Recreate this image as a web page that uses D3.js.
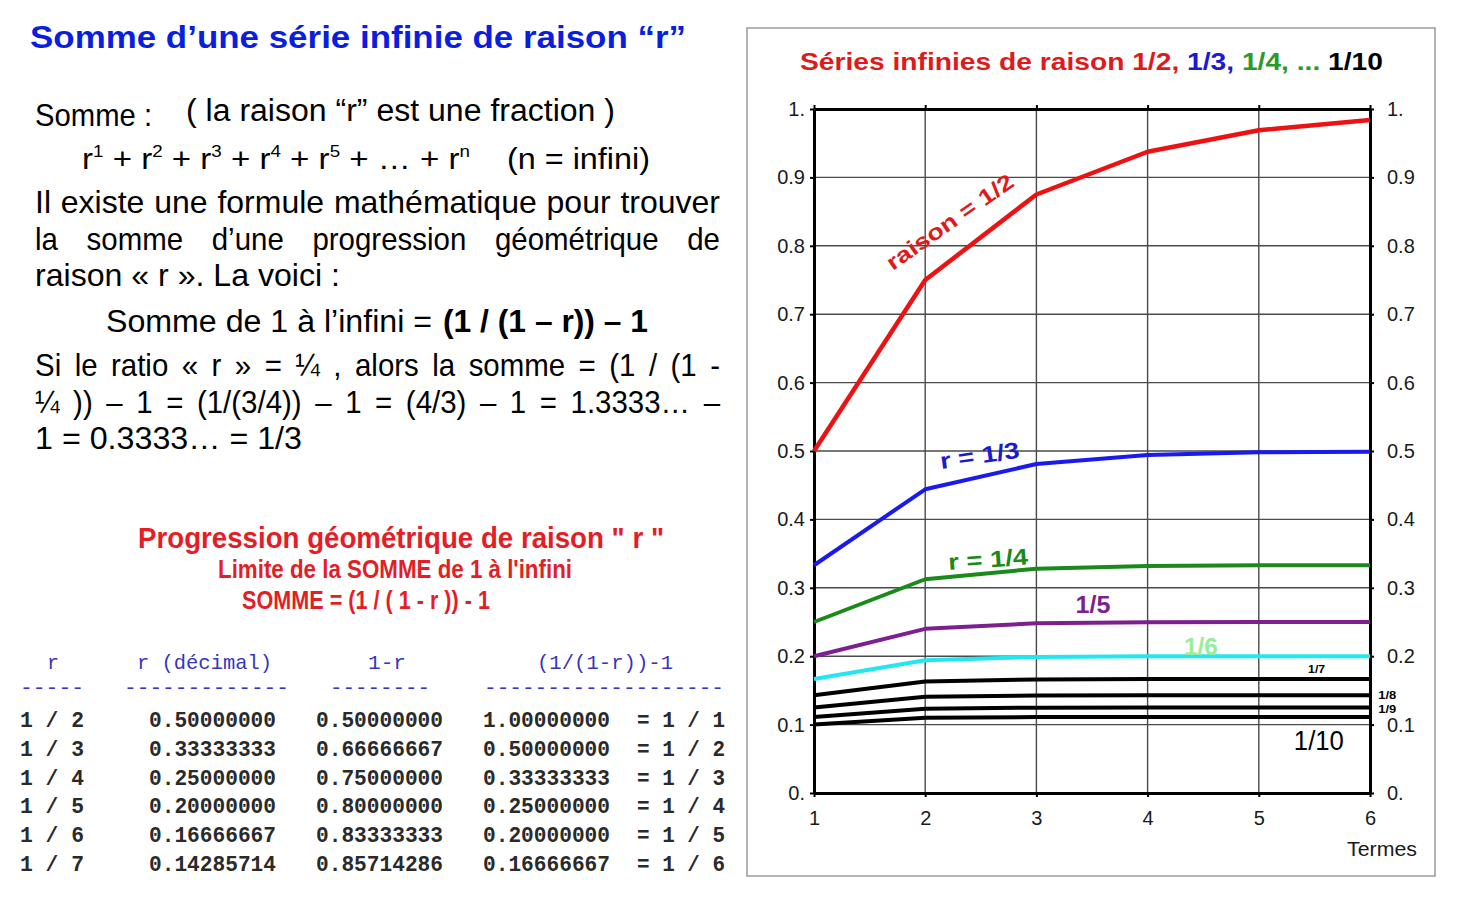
<!doctype html>
<html>
<head>
<meta charset="utf-8">
<script src="https://cdn.jsdelivr.net/npm/d3@7"></script>
<style>
  html, body { margin: 0; padding: 0; background: #fff; }
  svg { display: block; font-family: "Liberation Sans", Arial, sans-serif; }
</style>
</head>
<body>
<svg id="chart" width="1462" height="902"></svg>
<script>
  // termes de la série (axe x)
  var termes = [1, 2, 3, 4, 5, 6];

  // sommes partielles, une par raison
  var serie2 = [0.5, 0.75, 0.875, 0.9375, 0.969, 0.984];
  var serie3 = [0.333, 0.444, 0.481, 0.494, 0.498, 0.499];
  var serie4 = [0.25, 0.3125, 0.328, 0.332, 0.333, 0.333];
  var serie5 = [0.2, 0.24, 0.248, 0.2496, 0.2499, 0.25];
  var serie6 = [0.1667, 0.194, 0.199, 0.1998, 0.2, 0.2];
  var serie7 = [0.143, 0.163, 0.166, 0.1666, 0.1667, 0.1667];
  var serie8 = [0.125, 0.1406, 0.1426, 0.1428, 0.1428, 0.1429];
  var serie9 = [0.111, 0.123, 0.1248, 0.125, 0.125, 0.125];
  var serie10 = [0.1, 0.11, 0.111, 0.111, 0.111, 0.111];

  var raisons = ['1/2', '1/3', '1/4', '1/5', '1/6', '1/7', '1/8', '1/9', '1/10'];
  var series = [serie2, serie3, serie4, serie5, serie6, serie7, serie8, serie9, serie10];

  var yTicks = [0, 0.1, 0.2, 0.3, 0.4, 0.5, 0.6, 0.7, 0.8, 0.9, 1];

  // tableau du bas
  var tabR = ['1 / 2', '1 / 3', '1 / 4', '1 / 5', '1 / 6', '1 / 7'];
  var tabDecimal = ['0.50000000', '0.33333333', '0.25000000', '0.20000000', '0.16666667', '0.14285714'];
  var tabUnMoinsR = ['0.50000000', '0.66666667', '0.75000000', '0.80000000', '0.83333333', '0.85714286'];
  var tabSomme = ['1.00000000', '0.50000000', '0.33333333', '0.25000000', '0.20000000', '0.16666667'];
  var tabFraction = ['= 1 / 1', '= 1 / 2', '= 1 / 3', '= 1 / 4', '= 1 / 5', '= 1 / 6'];
  var tabHeaders = ['r', 'r (décimal)', '1-r', '(1/(1-r))-1'];

  var colors = ['#ee1111', '#1a1aee', '#1a8a1a', '#7d1f8e', '#22e6f0', '#000', '#000', '#000', '#000'];

  var svg = d3.select('#chart');

  // ---------- texte de gauche ----------
  var left = svg.append('g').attr('class', 'left');

  left.append('text')
    .attr('x', 30).attr('y', 48)
    .attr('font-size', 31).attr('font-weight', 'bold').attr('fill', '#0a1ee0')
    .attr('textLength', 656).attr('lengthAdjust', 'spacingAndGlyphs')
    .text('Somme d’une série infinie de raison “r”');

  function plain(x, y, size, str, width, weight) {
    var t = left.append('text')
      .attr('x', x).attr('y', y)
      .attr('font-size', size).attr('fill', '#000')
      .attr('font-weight', weight || 'normal')
      .text(str);
    if (width) t.attr('textLength', width).attr('lengthAdjust', 'spacingAndGlyphs');
    return t;
  }

  // ligne justifiée mot par mot (police un peu condensée)
  function justify(x0, x1, y, size, str, condense) {
    var words = str.split(' ');
    var nodes = words.map(function (w) {
      return left.append('text').attr('y', y).attr('font-size', size).attr('fill', '#000').text(w);
    });
    var widths = nodes.map(function (n) { return n.node().getComputedTextLength(); });
    var total = d3.sum(widths);
    var minGap = size * 0.28;
    var scale = condense || 1;
    var gap = (x1 - x0 - total * scale) / (words.length - 1);
    if (gap < minGap) {
      scale = (x1 - x0 - minGap * (words.length - 1)) / total;
      gap = minGap;
    }
    var x = x0;
    nodes.forEach(function (n, i) {
      var w = widths[i] * scale;
      n.attr('x', x).attr('textLength', w).attr('lengthAdjust', 'spacingAndGlyphs');
      x += w + gap;
    });
  }

  plain(35, 126, 32, 'Somme :', 117);
  plain(186, 121, 31, '( la raison “r” est une fraction )', 429);

  var formula = left.append('text')
    .attr('x', 82).attr('y', 169).attr('font-size', 30).attr('fill', '#000')
    .attr('textLength', 388).attr('lengthAdjust', 'spacingAndGlyphs');
  ['1', '2', '3', '4', '5'].forEach(function (p) {
    formula.append('tspan').text('r');
    formula.append('tspan').attr('font-size', 17).attr('dy', -12).text(p);
    formula.append('tspan').attr('dy', 12).text(' + ');
  });
  formula.append('tspan').text('… + r');
  formula.append('tspan').attr('font-size', 17).attr('dy', -12).text('n');
  plain(507, 169, 30, '(n = infini)', 143);

  justify(35, 720, 213, 32, 'Il existe une formule mathématique pour trouver');
  justify(35, 720, 250, 32, 'la somme d’une progression géométrique de', 0.92);
  plain(35, 286, 32, 'raison « r ». La voici :', 305);
  plain(106, 332, 31, 'Somme de 1 à l’infini =', 326);
  plain(443, 332, 31, '(1 / (1 – r)) – 1', 205, 'bold');
  justify(35, 720, 376, 32, 'Si le ratio « r » = ¼ , alors la somme = (1 / (1 -', 0.92);
  justify(35, 720, 413, 32, '¼ )) – 1 = (1/(3/4)) – 1 = (4/3) – 1 = 1.3333… –', 0.92);
  plain(35, 449, 32, '1 = 0.3333… = 1/3', 267);

  // bloc rouge
  var red = '#e41e26';
  left.append('text').attr('x', 138).attr('y', 548).attr('font-size', 30).attr('font-weight', 'bold')
    .attr('fill', red).attr('textLength', 526).attr('lengthAdjust', 'spacingAndGlyphs')
    .text('Progression géométrique de raison " r "');
  left.append('text').attr('x', 218).attr('y', 578).attr('font-size', 25).attr('font-weight', 'bold')
    .attr('fill', red).attr('textLength', 354).attr('lengthAdjust', 'spacingAndGlyphs')
    .text('Limite de la SOMME de 1 à l\'infini');
  left.append('text').attr('x', 242).attr('y', 609).attr('font-size', 25).attr('font-weight', 'bold')
    .attr('fill', red).attr('textLength', 248).attr('lengthAdjust', 'spacingAndGlyphs')
    .text('SOMME = (1 / ( 1 - r )) - 1');

  // tableau
  var mono = '"Liberation Mono", "Courier New", monospace';
  var tab = left.append('g').attr('font-family', mono);
  var headX = [[47, 12], [137, 135], [368, 38], [537, 136]];
  tabHeaders.forEach(function (h, i) {
    tab.append('text').attr('x', headX[i][0]).attr('y', 669).attr('font-size', 21)
      .attr('fill', '#3535c0').attr('textLength', headX[i][1])
      .attr('lengthAdjust', 'spacingAndGlyphs').text(h);
  });
  var dashes = [[20, 64, 5], [124, 165, 13], [330, 100, 8], [484, 240, 19]];
  dashes.forEach(function (d) {
    tab.append('text').attr('x', d[0]).attr('y', 694).attr('font-size', 21).attr('fill', '#3535c0')
      .attr('textLength', d[1]).attr('lengthAdjust', 'spacingAndGlyphs')
      .text(d3.range(d[2]).map(function () { return '-'; }).join(''));
  });
  var rowY = d3.scaleLinear().domain([0, 5]).range([727, 871]);
  var cols = [[tabR, 20, 64], [tabDecimal, 149, 127], [tabUnMoinsR, 316, 127], [tabSomme, 483, 127], [tabFraction, 637, 88]];
  cols.forEach(function (c) {
    tab.selectAll(null).data(c[0]).enter().append('text')
      .attr('x', c[1]).attr('y', function (d, i) { return rowY(i); })
      .attr('font-size', 22).attr('font-weight', 'bold').attr('fill', '#2a2a2a')
      .attr('textLength', c[2]).attr('lengthAdjust', 'spacingAndGlyphs')
      .text(function (d) { return d; });
  });

  // ---------- graphique ----------
  svg.append('rect')
    .attr('x', 747).attr('y', 28).attr('width', 688).attr('height', 848)
    .attr('fill', '#fff').attr('stroke', '#9a9a9a').attr('stroke-width', 1.5);

  var titre = svg.append('text')
    .attr('x', 800).attr('y', 70).attr('font-size', 24).attr('font-weight', 'bold')
    .attr('textLength', 583).attr('lengthAdjust', 'spacingAndGlyphs');
  titre.append('tspan').attr('fill', '#e01a1a').text('Séries infinies de raison 1/2, ');
  titre.append('tspan').attr('fill', '#1a1ad0').text('1/3, ');
  titre.append('tspan').attr('fill', '#2a9a2a').text('1/4, ... ');
  titre.append('tspan').attr('fill', '#000').text('1/10');

  var x = d3.scaleLinear().domain([1, 6]).range([814, 1370]);
  var y = d3.scaleLinear().domain([0, 1]).range([793, 109]);

  var plot = svg.append('g');

  // grille
  plot.append('g').selectAll('line').data(yTicks.slice(1, -1)).enter().append('line')
    .attr('x1', x(1)).attr('x2', x(6))
    .attr('y1', function (d) { return y(d); }).attr('y2', function (d) { return y(d); })
    .attr('stroke', '#4a4a4a').attr('stroke-width', 1.4);
  plot.append('g').selectAll('line').data(termes.slice(1, -1)).enter().append('line')
    .attr('y1', y(0)).attr('y2', y(1))
    .attr('x1', function (d) { return x(d); }).attr('x2', function (d) { return x(d); })
    .attr('stroke', '#4a4a4a').attr('stroke-width', 1.4);

  var fmt = function (d) { return d === 0 ? '0.' : d === 1 ? '1.' : d3.format('.1f')(d); };

  function styleAxis(g) {
    g.select('.domain').attr('stroke', '#000').attr('stroke-width', 3);
    g.selectAll('.tick line').attr('stroke', '#000').attr('stroke-width', 2);
    g.selectAll('.tick text').attr('font-size', 20).attr('fill', '#1a1a1a')
      .attr('font-family', '"Liberation Sans", Arial, sans-serif');
  }

  plot.append('g').attr('transform', 'translate(' + x(1) + ',0)')
    .call(d3.axisLeft(y).tickValues(yTicks).tickFormat(fmt).tickSize(4).tickSizeOuter(0).tickPadding(5))
    .call(styleAxis);
  plot.append('g').attr('transform', 'translate(' + x(6) + ',0)')
    .call(d3.axisRight(y).tickValues(yTicks).tickFormat(fmt).tickSize(4).tickSizeOuter(0).tickPadding(13))
    .call(styleAxis);
  plot.append('g').attr('transform', 'translate(0,' + y(0) + ')')
    .call(d3.axisBottom(x).tickValues(termes).tickFormat(d3.format('d')).tickSize(4).tickSizeOuter(0).tickPadding(14))
    .call(styleAxis);
  plot.append('g').attr('transform', 'translate(0,' + y(1) + ')')
    .call(d3.axisTop(x).tickValues(termes).tickFormat('').tickSize(4).tickSizeOuter(0))
    .call(styleAxis);

  svg.append('text').attr('x', 1347).attr('y', 856).attr('font-size', 21).attr('fill', '#1a1a1a')
    .attr('textLength', 70).attr('lengthAdjust', 'spacingAndGlyphs').text('Termes');

  // courbes (noires d'abord, rouge au-dessus)
  var line = d3.line()
    .x(function (d, i) { return x(termes[i]); })
    .y(function (d) { return y(d); });

  var order = d3.range(series.length).reverse();
  plot.append('g').selectAll('path').data(order).enter().append('path')
    .attr('d', function (i) { return line(series[i]); })
    .attr('fill', 'none')
    .attr('stroke', function (i) { return colors[i]; })
    .attr('stroke-width', function (i) { return i === 0 ? 4.5 : 4; })
    .attr('stroke-linejoin', 'round');

  // étiquettes des courbes
  function label(tx, ty, str, size, color, rot, w) {
    var t = svg.append('text')
      .attr('transform', 'translate(' + tx + ',' + ty + ') rotate(' + (rot || 0) + ')')
      .attr('font-size', size).attr('font-weight', 'bold').attr('fill', color)
      .attr('text-anchor', 'middle').text(str);
    if (w) t.attr('textLength', w).attr('lengthAdjust', 'spacingAndGlyphs');
    return t;
  }
  label(x(2.26), y(0.826), 'raison = 1/2', 22, '#e01a1a', -35, 150);
  label(x(2.5), y(0.482), 'r = 1/3', 23, '#1a1ad0', -8, 80);
  label(x(2.57), y(0.33), 'r = 1/4', 23, '#1a8a1a', -4, 80);
  label(x(3.51), y(0.263), raisons[3], 24, '#7d1f8e', 0, 35);
  label(x(4.48), y(0.202), raisons[4], 24, '#98ee98', 0, 34);
  label(x(5.52), y(0.175), raisons[5], 11, '#000', 0, 17);
  label(x(6.155), y(0.137), raisons[6], 11, '#000', 0, 18);
  label(x(6.155), y(0.117), raisons[7], 11, '#000', 0, 18);
  label(x(5.54), y(0.063), raisons[8], 27, '#000', 0, 50).attr('font-weight', 'normal');
</script>
</body>
</html>
